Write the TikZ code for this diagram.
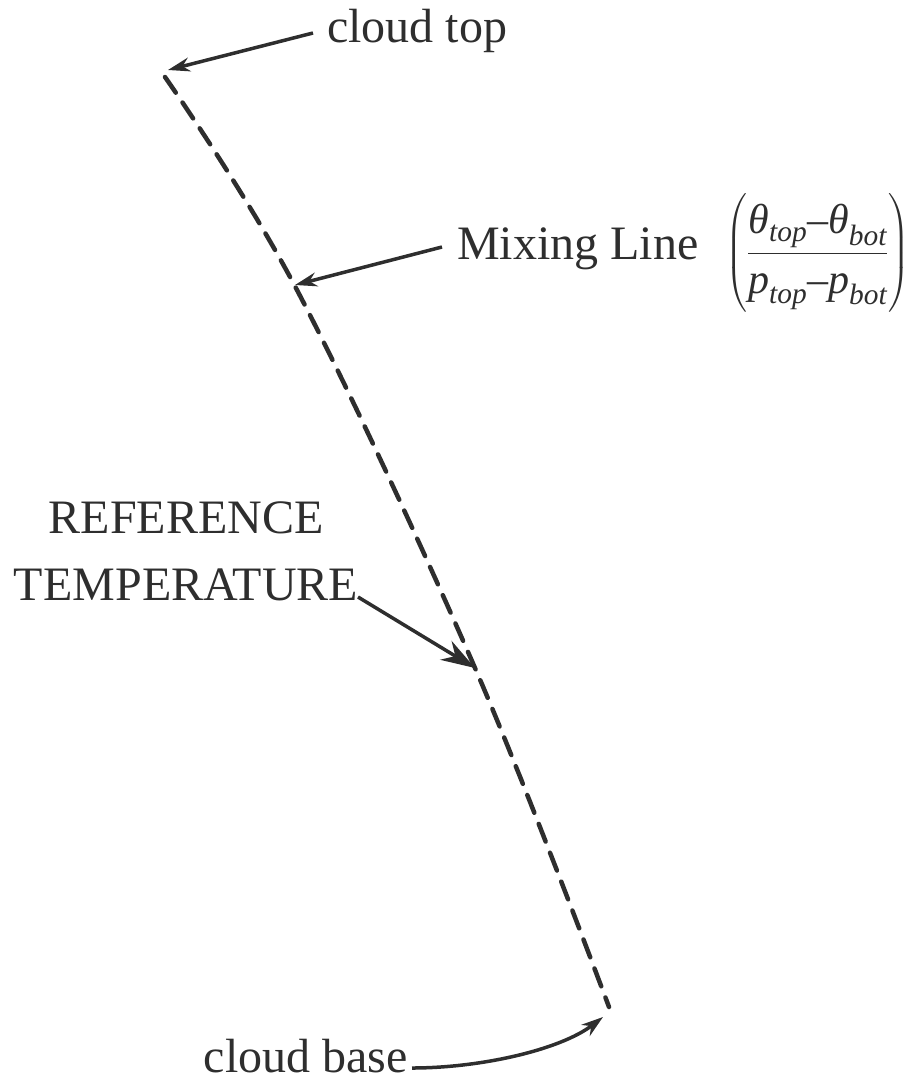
\documentclass[tikz,border=0pt]{standalone}
\usepackage{amsmath}
\usepackage{fontspec}
\setmainfont{Liberation Serif}
\usetikzlibrary{arrows.meta}
\definecolor{ink}{HTML}{2E2E2E}
\tikzset{
  lbl/.style={inner sep=0pt, text=ink, font=\fontsize{48}{67}\selectfont},
  fraclbl/.style={inner sep=0pt, text=ink, font=\fontsize{42}{50}\selectfont},
  pointer/.style={draw=ink, line width=3.5pt, -{Stealth[length=22pt,width=14pt]}},
  bigpointer/.style={draw=ink, line width=3.5pt, -{Stealth[length=34pt,width=22pt]}},
  mixline/.style={draw=ink, line width=4.5pt, line cap=round, dash pattern=on 19pt off 12pt}
}
\newcommand{\fracstrut}{\rule[-0.38em]{0pt}{1.25em}}
\begin{document}
\begin{tikzpicture}[x=1pt,y=-1pt]
\useasboundingbox (0,0) rectangle (909,1081);
% dashed mixing line
\draw[mixline] plot[smooth, tension=0.6] coordinates {(165,77) (297,290) (475,668) (609,1007)};
\coordinate (top) at (168,70);
\coordinate (mix) at (295,285);
\coordinate (ref) at (475,668);
\coordinate (base) at (603,1017);
% labels
\node[lbl, anchor=base west] (ct) at (327,43) {cloud top};
\node[lbl, anchor=base west] (ml) at (457,259) {Mixing Line};
\node[fraclbl, anchor=west] (fr) at (725,253) {$\left(\dfrac{\fracstrut\textit{θ}_{\textit{top}}\text{--}\textit{θ}_{\textit{bot}}}{\fracstrut\textit{p}_{\textit{top}}\text{--}\textit{p}_{\textit{bot}}}\right)$};
\node[lbl, align=center, anchor=base] (rt) at (186,600) {REFERENCE\\TEMPERATURE};
\node[lbl, anchor=base east] (cb) at (408,1072) {cloud base};
% arrows
\coordinate (cts) at (313,33);
\coordinate (mls) at (442,247);
\coordinate (rts) at (358,597);
\coordinate (cbs) at (412,1068);
\draw[pointer] (cts) -- (top);
\draw[pointer] (mls) -- (mix);
\draw[bigpointer] (rts) -- (ref);
\draw[pointer] (cbs) .. controls (480,1068) and (560,1050) .. (base);
\end{tikzpicture}
\end{document}
